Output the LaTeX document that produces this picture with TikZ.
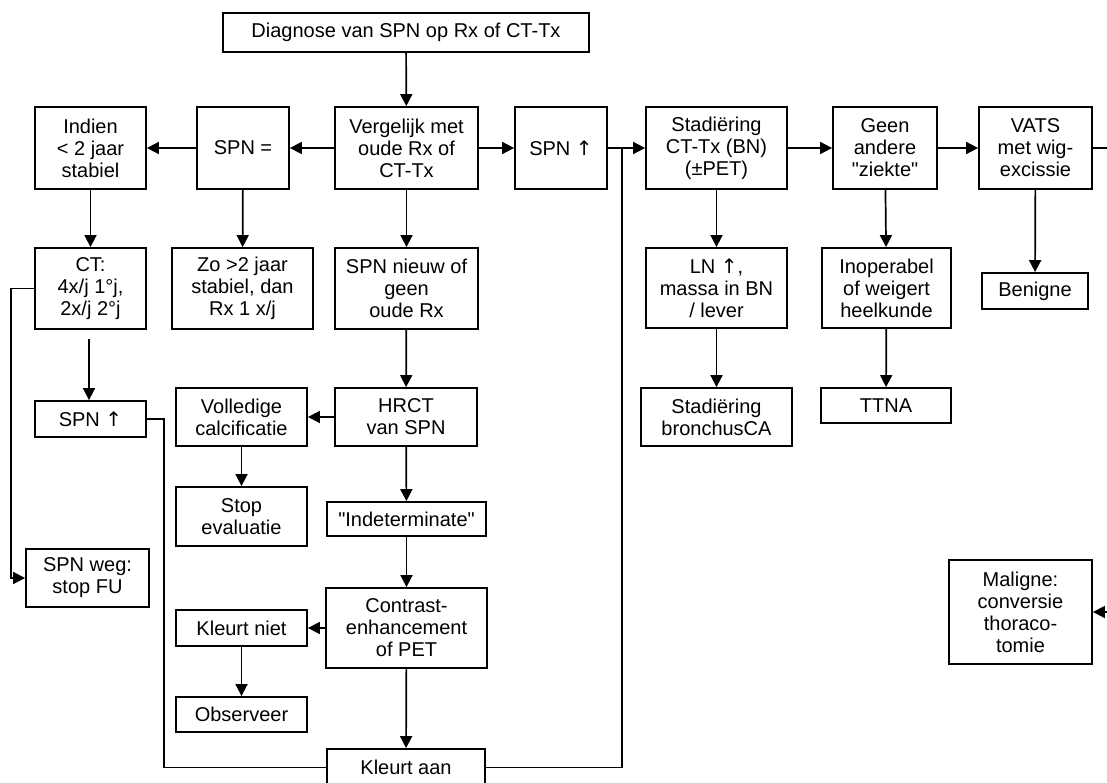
\documentclass[tikz,border=0pt]{standalone}
\usepackage{fontspec}
\setmainfont{Liberation Sans}
\newfontfamily\arrowfont{DejaVu Sans}
\usetikzlibrary{arrows.meta}
\newcommand\uparr{{\arrowfont ↑}}
\tikzset{
  box/.style={draw, line width=1.8pt, inner sep=0pt, align=center, font=\fontsize{20}{22}\selectfont},
  conn/.style={line width=1.7pt},
  arr/.style={conn, -{Triangle[length=12pt,width=12pt]}},
}
\newcommand\bx[6]{\node[box,minimum width={(#3-#2)*1pt},minimum height={(#5-#4)*1pt}] (#1) at ({(#2+#3)/2},{(#4+#5)/2}) {#6};}
\begin{document}
\begin{tikzpicture}[x=1pt,y=-1pt]
\useasboundingbox (0,0) rectangle (1107,783);
\fill[white] (0,0) rectangle (1107,783);
\clip (0,0) rectangle (1107,783);
% boxes
\bx{top}{223}{589}{13}{52}{Diagnose van SPN op Rx of CT-Tx}
\bx{verg}{335}{478}{107}{189}{Vergelijk met\\oude Rx of\\CT-Tx}
\bx{spneq}{197}{289}{107}{189}{SPN =}
\bx{indien}{35}{146}{107}{189}{Indien\\< 2 jaar\\stabiel}
\bx{spnupa}{515}{607}{107}{189}{SPN \uparr}
\bx{stad}{646}{787}{107}{189}{Stadiëring\\CT-Tx (BN)\\(±PET)}
\bx{geen}{833}{937}{107}{189}{Geen\\andere\\\textquotedbl ziekte\textquotedbl}
\bx{vats}{979}{1092}{107}{189}{VATS\\met wig-\\excissie}
\bx{ct}{35}{146}{248}{329}{CT:\\4x/j 1°j,\\2x/j 2°j}
\bx{zo}{172}{313}{248}{329}{Zo >2 jaar\\stabiel, dan\\Rx 1 x/j}
\bx{nieuw}{335}{478}{248}{329}{SPN nieuw of\\geen\\oude Rx}
\bx{ln}{646}{787}{248}{328}{LN \uparr,\\massa in BN\\/ lever}
\bx{inop}{822}{951}{248}{328}{Inoperabel\\of weigert\\heelkunde}
\bx{benigne}{982}{1088}{273}{309}{Benigne}
\bx{spnupb}{35}{146}{401}{437}{SPN \uparr}
\bx{voll}{176}{307}{388}{446}{Volledige\\calcificatie}
\bx{hrct}{335}{477}{388}{446}{HRCT\\van SPN}
\bx{stadb}{641}{792}{388}{446}{Stadiëring\\bronchusCA}
\bx{ttna}{821}{951}{388}{423}{TTNA}
\bx{stop}{176}{307}{487}{546}{Stop\\evaluatie}
\bx{indet}{327}{486}{502}{536}{\textquotedbl Indeterminate\textquotedbl}
\bx{spnweg}{26}{149}{549}{607}{SPN weg:\\stop FU}
\bx{maligne}{949}{1092}{560}{664}{Maligne:\\conversie\\thoraco-\\tomie}
\bx{kniet}{176}{307}{610}{646}{Kleurt niet}
\bx{contrast}{326}{487}{588}{668}{Contrast-\\enhancement\\of PET}
\bx{observeer}{176}{307}{697}{732}{Observeer}
\bx{kaan}{327}{485}{749}{786}{Kleurt aan}
% helper coordinates
\coordinate (join) at (622,148);
\coordinate (rightout) at (1115,148);
\coordinate (rightin) at (1115,612);
% connectors
\draw[arr] (top) -- (verg);
\draw[arr] (verg) -- (spneq);
\draw[arr] (spneq) -- (indien);
\draw[arr] (indien) -- (ct);
\draw[arr] (spneq) -- (zo);
\draw[arr] (verg) -- (nieuw);
\draw[arr] (nieuw) -- (hrct);
\draw[arr] (hrct) -- (voll);
\draw[arr] (voll) -- (stop);
\draw[arr] (hrct) -- (indet);
\draw[arr] (indet) -- (contrast);
\draw[arr] (contrast) -- (kaan);
\draw[arr] (contrast) -- (kniet);
\draw[arr] (kniet) -- (observeer);
\draw[arr] (verg) -- (spnupa);
\draw[arr] (spnupa) -- (stad);
\draw[conn] (kaan.east) -| (join);
\draw[arr] (stad) -- (ln);
\draw[arr] (ln) -- (stadb);
\draw[arr] (stad) -- (geen);
\draw[arr] (geen) -- (vats);
\draw[arr] (geen) -- (inop);
\draw[arr] (inop) -- (ttna);
\draw[arr] (vats) -- (benigne);
\draw[conn] (vats.east) -- (rightout);
\draw[arr] (rightin) -- (maligne.east);
\draw[arr, shorten <=9pt] (ct.south -| 89,0) -- (spnupb.north -| 89,0);
\draw[arr] (ct.west) -- ++(-23,0) |- (spnweg.west);
\draw[conn] (spnupb.east) -- ++(17,0) |- (kaan.west);
\end{tikzpicture}
\end{document}
